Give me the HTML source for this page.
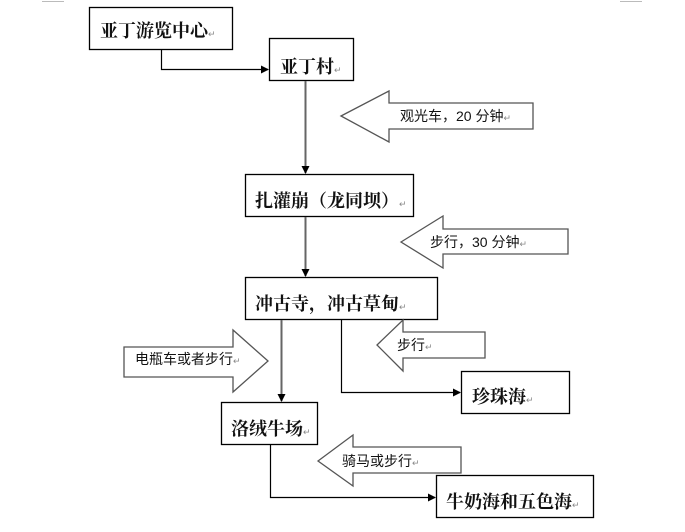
<!DOCTYPE html>
<html><head><meta charset="utf-8"><style>
html,body{margin:0;padding:0;background:#fff;width:685px;height:532px;overflow:hidden}
svg{display:block}
.b{font-family:"Liberation Serif","Noto Serif CJK SC",serif;font-weight:bold;font-size:18px;fill:#111}
.l{font-family:"Liberation Sans","Noto Sans CJK SC",sans-serif;font-size:14px;fill:#111}
.r{font-size:9px;fill:#888;font-family:"Liberation Sans",sans-serif;font-weight:normal}
</style></head><body>
<svg width="685" height="532" viewBox="0 0 685 532" xmlns="http://www.w3.org/2000/svg">
<defs><marker id="a" markerWidth="8" markerHeight="8" refX="7" refY="4" orient="auto" markerUnits="userSpaceOnUse"><path d="M0,0 L8,4 L0,8z" fill="#000"/></marker></defs>
<g stroke="#bbb" fill="none"><path d="M42,1.5 H64 M642,1.5 H620"/></g>
<g fill="#fff" stroke="#000" stroke-width="1.3">
<rect x="89.5" y="7.5" width="143" height="42"/>
<rect x="269.5" y="38.5" width="84" height="42"/>
<rect x="245.5" y="174.5" width="168" height="42"/>
<rect x="245.5" y="277.5" width="192" height="42"/>
<rect x="461.5" y="371.5" width="108" height="42"/>
<rect x="221.5" y="402.5" width="96" height="42"/>
<rect x="436.5" y="475.5" width="157" height="42"/>
</g>
<g fill="none" stroke-width="1.2" marker-end="url(#a)">
<path d="M161.5,50 V69.5 H268" stroke="#000"/>
<path d="M305.5,81 V173" stroke="#666" stroke-width="2"/>
<path d="M305.5,217 V276" stroke="#666" stroke-width="2"/>
<path d="M281.5,320 V401" stroke="#666" stroke-width="2"/>
<path d="M341.5,320 V392.5 H460" stroke="#000"/>
<path d="M270.5,445 V497.5 H435" stroke="#000"/>
</g>
<g fill="#fff" stroke="#555" stroke-width="1.3">
<path d="M341,116 L389,91 V103 H533 V129 H389 V142z"/>
<path d="M401,242 L443,216 V229 H568 V254 H443 V268z"/>
<path d="M268,361 L233,330 V347 H124 V377 H233 V392z"/>
<path d="M377,345 L403,320 V332 H485 V358 H403 V371z"/>
<path d="M318,461 L353,435 V447 H461 V473 H353 V486z"/>
</g>
<text class="b" x="100" y="37">亚丁游览中心<tspan class="r">↵</tspan></text>
<text class="b" x="280" y="73">亚丁村<tspan class="r">↵</tspan></text>
<text class="b" x="255" y="207">扎灌崩（龙同坝）<tspan class="r">↵</tspan></text>
<text class="b" x="255" y="310">冲古寺，冲古草甸<tspan class="r">↵</tspan></text>
<text class="b" x="472" y="403">珍珠海<tspan class="r">↵</tspan></text>
<text class="b" x="231" y="435">洛绒牛场<tspan class="r">↵</tspan></text>
<text class="b" x="446" y="508">牛奶海和五色海<tspan class="r">↵</tspan></text>
<text class="l" x="400" y="121">观光车，20 分钟<tspan class="r">↵</tspan></text>
<text class="l" x="430" y="247">步行，30 分钟<tspan class="r">↵</tspan></text>
<text class="l" x="135" y="364">电瓶车或者步行<tspan class="r">↵</tspan></text>
<text class="l" x="397" y="350">步行<tspan class="r">↵</tspan></text>
<text class="l" x="342" y="466">骑马或步行<tspan class="r">↵</tspan></text>
</svg>
</body></html>
